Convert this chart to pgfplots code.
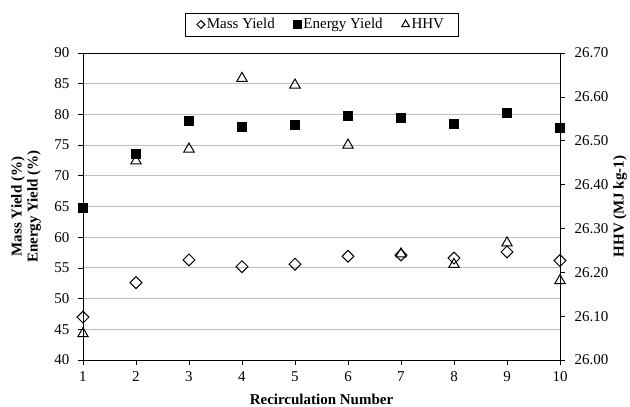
\documentclass[border=0pt]{standalone}
\usepackage{fontspec}
\setmainfont{Liberation Serif}
\usepackage{pgfplots}
\pgfplotsset{compat=1.18}
\pgfplotstableread{
x mass energy
1 47.0 64.8
2 52.6 73.6
3 56.3 78.9
4 55.2 78.0
5 55.6 78.4
6 56.9 79.8
7 57.1 79.4
8 56.6 78.5
9 57.6 80.3
10 56.2 77.9
}\yielddata
\pgfplotstableread{
x hhv
1 26.060
2 26.454
3 26.481
4 26.642
5 26.627
6 26.490
7 26.242
8 26.218
9 26.267
10 26.181
}\hhvdata
\pgfplotsset{
  common/.style={
    scale only axis, width=477pt, height=307pt,
    at={(0pt,0pt)}, anchor=south west,
    xmin=1, xmax=10,
    tick align=outside, major tick length=5pt,
    tick style={black, line width=0.6pt},
    /pgf/number format/assume math mode=true,
    tick label style={font=\fontsize{15}{16}\selectfont},
    label style={font=\fontsize{15}{16}\selectfont\bfseries},
  },
  legimg/.style={legend image code/.code={\draw[##1,mark size=#1] plot coordinates {(0pt,0pt)};}},
}
\begin{document}
\begin{tikzpicture}
\begin{axis}[common,
  ymin=40, ymax=90, ytick={40,45,...,90},
  xtick={1,...,10}, xtick pos=bottom, ytick pos=left,
  yticklabel style={xshift=-5pt},
  xticklabel style={yshift=-3pt},
  ymajorgrids, grid style={gray!50, line width=0.8pt},
  axis line style={black, line width=0.9pt},
  xlabel={Recirculation Number},
  xlabel style={at={(axis description cs:0.5,-0.127)}, anchor=center},
  ylabel={Mass Yield (\%)\\Energy Yield (\%)},
  ylabel style={align=center, at={(axis description cs:-0.1195,0.5)}, anchor=center},
]
\addplot[only marks, mark=square, mark size=4.2pt, mark options={rotate=45, line width=1pt, fill=white}] table[x=x, y=mass] {\yielddata};
\addplot[only marks, mark=square*, mark size=4.5pt, mark options={fill=black}] table[x=x, y=energy] {\yielddata};
\end{axis}
\begin{axis}[common,
  ymin=26, ymax=26.7, ytick={26.0,26.1,26.2,26.3,26.4,26.5,26.6,26.7},
  axis y line*=right, axis x line=none,
  axis line style={black, line width=0.9pt},
  yticklabel style={xshift=6pt, /pgf/number format/.cd, fixed, fixed zerofill, precision=2},
  ylabel={HHV (MJ kg-1)},
  ylabel style={at={(axis description cs:1.1258,0.5)}, anchor=center},
  legend style={at={(axis description cs:0.5,1)}, anchor=center, yshift=28.5pt,
    draw=black, line width=0.8pt, font=\fontsize{15}{16}\selectfont,
    legend columns=-1, inner xsep=12pt, inner ysep=3.5pt,
    /tikz/every even column/.append style={column sep=17pt}},
  legend cell align=left,
]
\addlegendimage{only marks, mark=square, mark size=2.8pt, mark options={rotate=45, line width=1pt}, legimg=2.8pt}
\addlegendentry{Mass Yield}
\addlegendimage{only marks, mark=square*, mark size=3.8pt, legimg=3.8pt}
\addlegendentry{Energy Yield}
\addplot[only marks, mark=triangle, mark size=6pt, mark options={line width=1pt}, legimg=4.5pt] table[x=x, y=hhv] {\hhvdata};
\addlegendentry{HHV}
\end{axis}
\pgfresetboundingbox
\path[use as bounding box] (-83pt,-47pt) rectangle (547pt,360pt);
\end{tikzpicture}
\end{document}
